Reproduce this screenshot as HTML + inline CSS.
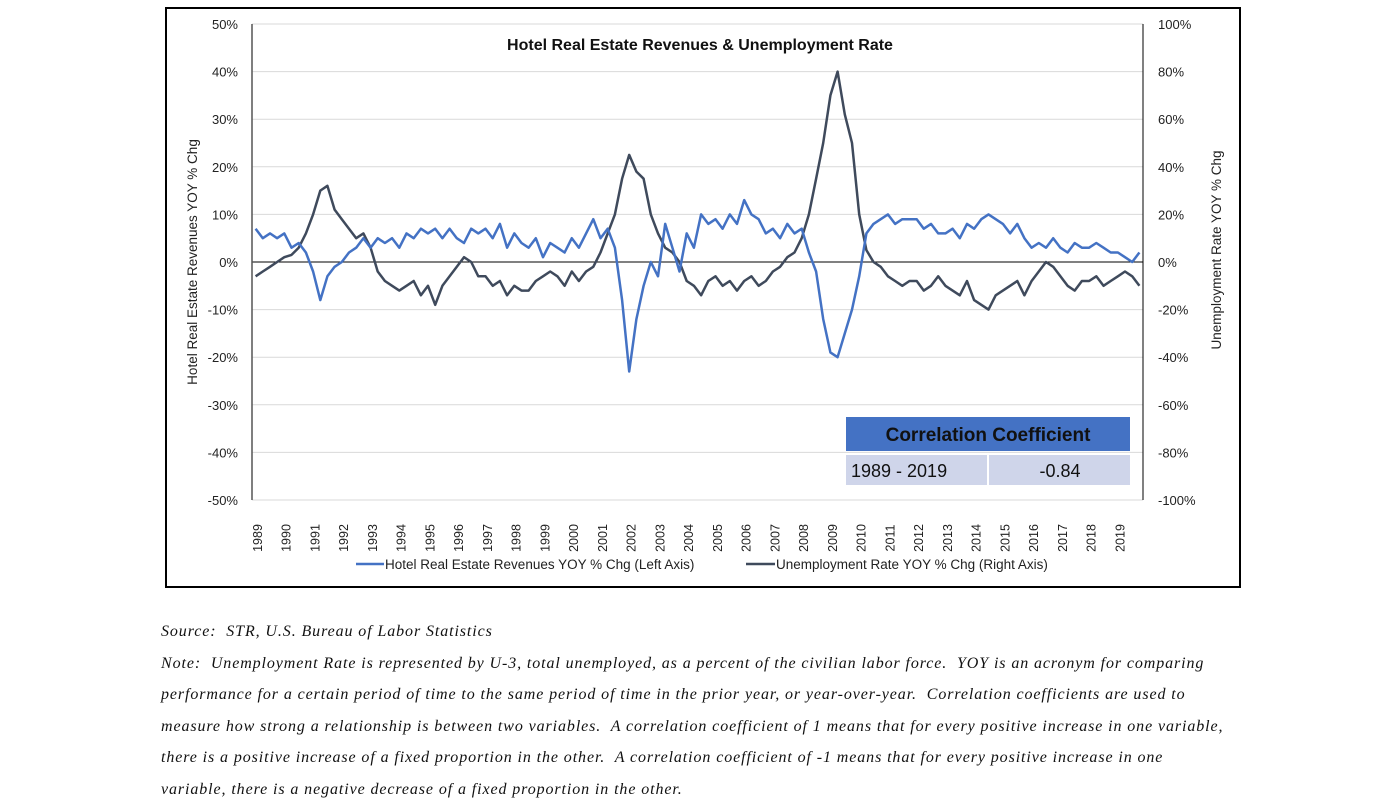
<!DOCTYPE html>
<html><head><meta charset="utf-8"><style>
body{margin:0;background:#fff;width:1394px;height:807px;overflow:hidden;font-family:"Liberation Sans",sans-serif}
.note{position:absolute;left:161px;font-family:"Liberation Serif",serif;font-style:italic;font-size:16px;letter-spacing:0.9px;color:#111;white-space:nowrap}
</style></head><body>
<div style="position:absolute;left:165px;top:7px;width:1072px;height:577px;border:2px solid #000"></div>
<svg id="chart" width="1394" height="600" style="position:absolute;left:0;top:0"></svg>
<div class="note" style="top:623px">Source:&nbsp; STR, U.S. Bureau of Labor Statistics</div>
<div class="note" style="top:655px">Note:&nbsp; Unemployment Rate is represented by U-3, total unemployed, as a percent of the civilian labor force.&nbsp; YOY is an acronym for comparing</div>
<div class="note" style="top:686px">performance for a certain period of time to the same period of time in the prior year, or year-over-year.&nbsp; Correlation coefficients are used to</div>
<div class="note" style="top:718px">measure how strong a relationship is between two variables.&nbsp; A correlation coefficient of 1 means that for every positive increase in one variable,</div>
<div class="note" style="top:749px">there is a positive increase of a fixed proportion in the other.&nbsp; A correlation coefficient of -1 means that for every positive increase in one</div>
<div class="note" style="top:781px">variable, there is a negative decrease of a fixed proportion in the other.</div>
<script>
const years=[1989,1990,1991,1992,1993,1994,1995,1996,1997,1998,1999,2000,2001,2002,2003,2004,2005,2006,2007,2008,2009,2010,2011,2012,2013,2014,2015,2016,2017,2018,2019];
const leftTicks=[50,40,30,20,10,0,-10,-20,-30,-40,-50];
const rightTicks=[100,80,60,40,20,0,-20,-40,-60,-80,-100];
const hotel=[7,5,6,5, 6,3,4,2, -2,-8,-3,-1, 0,2,3,5, 3,5,4,5, 3,6,5,7, 6,7,5,7, 5,4,7,6, 7,5,8,3, 6,4,3,5, 1,4,3,2, 5,3,6,9, 5,7,3,-8, -23,-12,-5,0, -3,8,3,-2, 6,3,10,8, 9,7,10,8, 13,10,9,6, 7,5,8,6, 7,2,-2,-12, -19,-20,-15,-10, -3,6,8,9, 10,8,9,9, 9,7,8,6, 6,7,5,8, 7,9,10,9, 8,6,8,5, 3,4,3,5, 3,2,4,3, 3,4,3,2, 2,1,0,2];
const unemp=[-6,-4,-2,0, 2,3,6,12, 20,30,32,22, 18,14,10,12, 6,-4,-8,-10, -12,-10,-8,-14, -10,-18,-10,-6, -2,2,0,-6, -6,-10,-8,-14, -10,-12,-12,-8, -6,-4,-6,-10, -4,-8,-4,-2, 4,12,20,35, 45,38,35,20, 12,6,4,0, -8,-10,-14,-8, -6,-10,-8,-12, -8,-6,-10,-8, -4,-2,2,4, 10,20,35,50, 70,80,62,50, 20,5,0,-2, -6,-8,-10,-8, -8,-12,-10,-6, -10,-12,-14,-8, -16,-18,-20,-14, -12,-10,-8,-14, -8,-4,0,-2, -6,-10,-12,-8, -8,-6,-10,-8, -6,-4,-6,-10];
const NS="http://www.w3.org/2000/svg",svg=document.getElementById("chart");
const X0=252,X1=1143,YT=24,YB=500;
const xs=t=>X0+(t-1989)/31*(X1-X0);
const yL=v=>YT+(50-v)/100*(YB-YT);
const yR=v=>YT+(100-v)/200*(YB-YT);
function el(tag,attrs,parent){const e=document.createElementNS(NS,tag);for(const k in attrs)e.setAttribute(k,attrs[k]);(parent||svg).appendChild(e);return e;}
leftTicks.forEach(v=>{
 const g=el("line",{x1:X0,x2:X1,y1:yL(v),y2:yL(v),stroke:v===0?"#000":"#d9d9d9","stroke-width":1});
 
 
 const t=el("text",{x:X0-14,y:yL(v)+5,"text-anchor":"end","font-size":13,fill:"#222"});t.textContent=v+"%";
 
 
});
rightTicks.forEach(v=>{
 const t=el("text",{x:X1+15,y:yR(v)+5,"font-size":13,fill:"#222"});t.textContent=v+"%";
 
 
});
let a=el("line",{x1:X0,x2:X0,y1:YT,y2:YB,stroke:"#555","stroke-width":1.5});

a=el("line",{x1:X1,x2:X1,y1:YT,y2:YB,stroke:"#000","stroke-width":1});

years.forEach(y=>{
 const x=xs(y)+6;
 const t=el("text",{x:0,y:0,transform:`translate(${x+4},${538}) rotate(-90)`,"text-anchor":"middle","font-size":12.5,fill:"#222"});t.textContent=y;
 
 
});
function path(vals,fy,color,name){
 const d=vals.map((v,i)=>(i?"L":"M")+xs(1989+i/4+0.125).toFixed(1)+","+fy(v).toFixed(1)).join("");
 const p=el("path",{d:d,fill:"none",stroke:color,"stroke-width":2.5,"stroke-linejoin":"round"});
 
 
}
path(unemp,yR,"#3f4a5c","unemployment-line");
path(hotel,yL,"#4472c4","hotel-revenue-line");
let t=el("text",{x:700,y:50,"text-anchor":"middle","font-size":16,"font-weight":"bold",fill:"#111"});t.textContent="Hotel Real Estate Revenues & Unemployment Rate";

t=el("text",{x:0,y:0,transform:"translate(197,262) rotate(-90)","text-anchor":"middle","font-size":13.5,fill:"#222"});t.textContent="Hotel Real Estate Revenues YOY % Chg";

t=el("text",{x:0,y:0,transform:"translate(1221,250) rotate(-90)","text-anchor":"middle","font-size":13.5,fill:"#222"});t.textContent="Unemployment Rate YOY % Chg";

let r=el("rect",{x:846,y:417,width:284,height:34,fill:"#4472c4"});
t=el("text",{x:988,y:441,"text-anchor":"middle","font-size":19,"font-weight":"bold",fill:"#111"});t.textContent="Correlation Coefficient";

r=el("rect",{x:846,y:455,width:141,height:30,fill:"#cfd5ea"});
r=el("rect",{x:989,y:455,width:141,height:30,fill:"#cfd5ea"});
t=el("text",{x:851,y:477,"font-size":18,fill:"#111"});t.textContent="1989 - 2019";

t=el("text",{x:1060,y:477,"text-anchor":"middle","font-size":18,fill:"#111"});t.textContent="-0.84";

let l=el("line",{x1:356,x2:384,y1:564,y2:564,stroke:"#4472c4","stroke-width":2.5});
t=el("text",{x:385,y:569,"font-size":13.5,fill:"#222"});t.textContent="Hotel Real Estate Revenues YOY % Chg (Left Axis)";

l=el("line",{x1:746,x2:775,y1:564,y2:564,stroke:"#3f4a5c","stroke-width":2.5});
t=el("text",{x:776,y:569,"font-size":13.5,fill:"#222"});t.textContent="Unemployment Rate YOY % Chg (Right Axis)";

</script>
</body></html>
